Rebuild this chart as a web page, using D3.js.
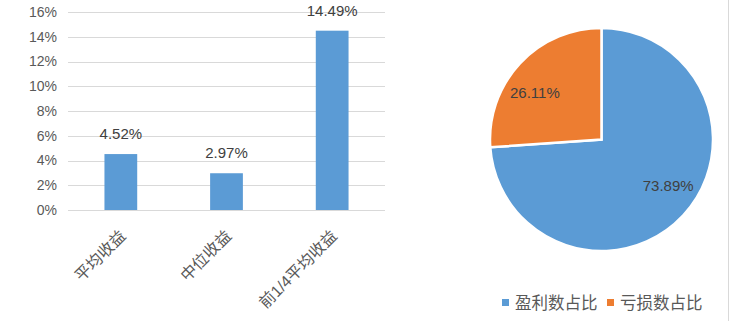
<!DOCTYPE html>
<html><head><meta charset="utf-8">
<script src="https://cdn.jsdelivr.net/npm/d3@7"></script>
<style>body{margin:0;background:#fff}svg{display:block;font-family:"Liberation Sans","Noto Sans CJK SC",sans-serif}</style>
</head><body>
<svg id="c" width="729" height="321"></svg>
<script>
const barCategories = ["平均收益", "中位收益", "前1/4平均收益"];
const barValues = [4.52, 2.97, 14.49];
const yTicks = [0, 2, 4, 6, 8, 10, 12, 14, 16];
const pieLabels = ["盈利数占比", "亏损数占比"];
const pieValues = [73.89, 26.11];
const pieColors = ["#5B9BD5", "#ED7D31"];

const svg = d3.select("#c");
const x = d3.scaleBand().domain(barCategories).range([68, 385]).paddingInner(0.69).paddingOuter(0.345);
const y = d3.scaleLinear().domain([0, 16]).range([210, 12]);

const g = svg.append("g");
g.selectAll("line.grid").data(yTicks).join("line")
  .attr("x1", 68).attr("x2", 385)
  .attr("y1", d => Math.round(y(d)) + 0.5).attr("y2", d => Math.round(y(d)) + 0.5)
  .attr("stroke", "#d9d9d9").attr("stroke-width", 1);
g.selectAll("text.yt").data(yTicks).join("text")
  .attr("x", 57).attr("y", d => y(d)).attr("dy", "0.35em")
  .attr("text-anchor", "end").attr("fill", "#595959").attr("font-size", 14)
  .text(d => d + "%");
g.selectAll("rect.bar").data(barValues).join("rect")
  .attr("x", (d, i) => x(barCategories[i])).attr("width", x.bandwidth())
  .attr("y", d => y(d)).attr("height", d => y(0) - y(d))
  .attr("fill", "#5B9BD5");
g.selectAll("text.val").data(barValues).join("text")
  .attr("x", (d, i) => x(barCategories[i]) + x.bandwidth() / 2)
  .attr("y", d => y(d) - 20).attr("dy", "0.35em")
  .attr("text-anchor", "middle").attr("fill", "#404040").attr("font-size", 15)
  .text(d => d.toFixed(2) + "%");
g.selectAll("text.cat").data(barCategories).join("text")
  .attr("transform", d => `translate(${x(d) + x.bandwidth() / 2 + 2},${233}) rotate(-45)`)
  .attr("text-anchor", "end").attr("dy", "0.35em")
  .attr("fill", "#595959").attr("font-size", 16)
  .text(d => d);

// pie
const cx = 601.5, cy = 139.5, r = 111.5;
const pie = d3.pie().sort(null).value(d => d)(pieValues);
const arc = d3.arc().innerRadius(0).outerRadius(r);
const pg = svg.append("g").attr("transform", `translate(${cx},${cy})`);
pg.selectAll("path").data(pie).join("path")
  .attr("d", arc).attr("fill", (d, i) => pieColors[i])
  .attr("stroke", "#fff").attr("stroke-width", 2.5);
const labelR = r * 0.73, labelShift = -8 * Math.PI / 180;
pg.selectAll("text").data(pie).join("text")
  .attr("transform", d => {
    const a = (d.startAngle + d.endAngle) / 2 + labelShift;
    return `translate(${Math.sin(a) * labelR},${-Math.cos(a) * labelR})`;
  })
  .attr("text-anchor", "middle").attr("dy", "0.35em")
  .attr("fill", "#404040").attr("font-size", 15)
  .text(d => d.data.toFixed(2) + "%");

// legend
const legX = [502, 607];
const lg = svg.append("g");
pieLabels.forEach((t, i) => {
  lg.append("rect").attr("x", legX[i]).attr("y", 299).attr("width", 7).attr("height", 7).attr("fill", pieColors[i]);
  lg.append("text").attr("x", legX[i] + 13).attr("y", 303).attr("dy", "0.35em")
    .attr("fill", "#595959").attr("font-size", 16.5).text(t);
});
svg.append("line").attr("x1", 728.5).attr("x2", 728.5).attr("y1", 0).attr("y2", 321).attr("stroke", "#d9d9d9");
</script>
</body></html>
